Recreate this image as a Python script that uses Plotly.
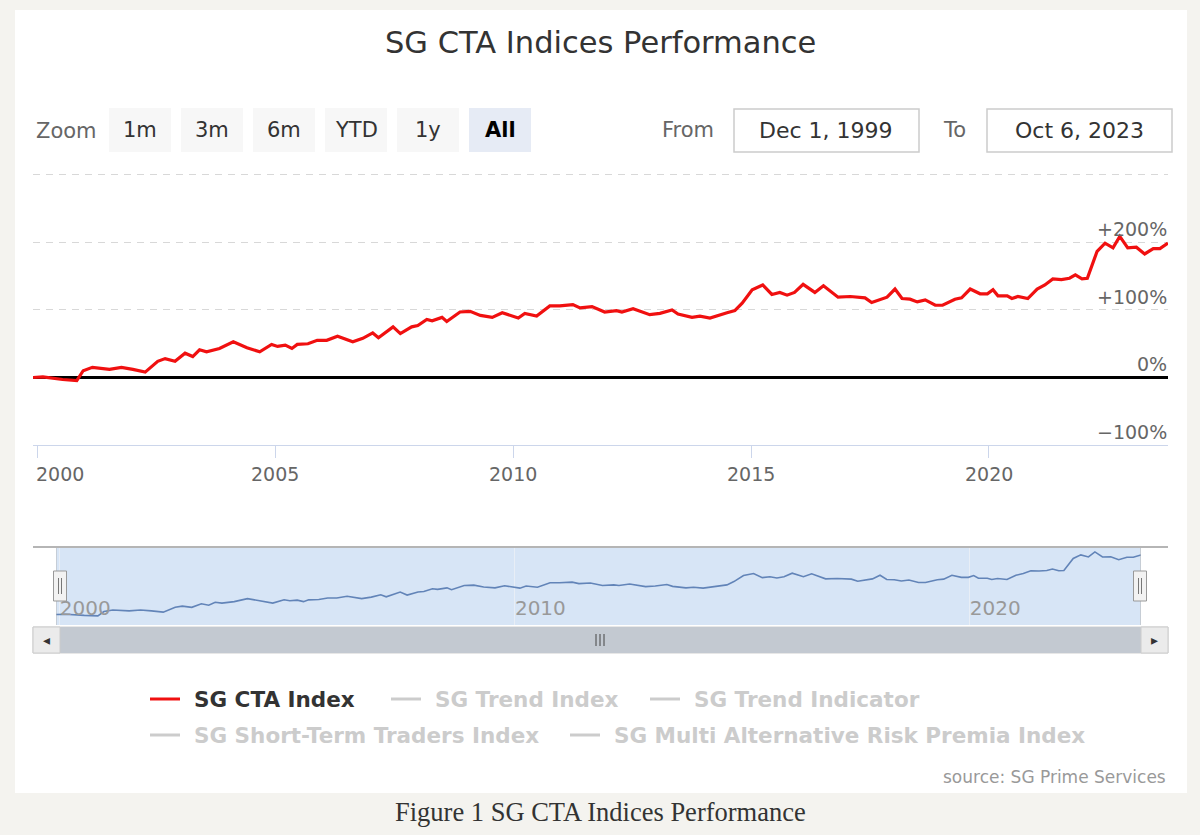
import plotly.graph_objects as go

# ---------------- data ----------------
dates = [
    "1999-12-01", "2000-02-15", "2000-07-15", "2000-11-01", "2000-12-20", "2001-03-01",
    "2001-07-10", "2001-10-10", "2002-01-05", "2002-04-10", "2002-07-15", "2002-09-10",
    "2002-11-25", "2003-02-10", "2003-04-10", "2003-06-01", "2003-07-25", "2003-11-01",
    "2004-02-15", "2004-05-30", "2004-09-05", "2004-12-05", "2005-01-20", "2005-03-20",
    "2005-05-10", "2005-06-20", "2005-09-10", "2005-11-20", "2006-02-01", "2006-04-25",
    "2006-08-20", "2006-11-05", "2007-01-20", "2007-03-05", "2007-06-25", "2007-08-20",
    "2007-11-15", "2008-01-01", "2008-03-10", "2008-04-20", "2008-07-05", "2008-08-10",
    "2008-11-20", "2009-02-05", "2009-04-25", "2009-07-25", "2009-10-10", "2010-02-10",
    "2010-04-01", "2010-07-01", "2010-10-10", "2010-12-25", "2011-04-05", "2011-05-30",
    "2011-08-30", "2011-12-05", "2012-03-05", "2012-04-15", "2012-07-10", "2012-11-15",
    "2013-02-01", "2013-05-05", "2013-06-20", "2013-10-05", "2013-12-05", "2014-02-20",
    "2014-07-01", "2014-08-30", "2014-10-25", "2015-01-10", "2015-04-01", "2015-06-10",
    "2015-08-10", "2015-10-05", "2015-12-01", "2016-02-05", "2016-05-05", "2016-07-10",
    "2016-10-30", "2017-02-01", "2017-05-25", "2017-07-15", "2017-11-10", "2018-01-10",
    "2018-03-05", "2018-05-05", "2018-06-30", "2018-08-30", "2018-11-15", "2019-01-10",
    "2019-04-15", "2019-06-05", "2019-08-10", "2019-10-25", "2019-12-20", "2020-02-01",
    "2020-03-10", "2020-05-20", "2020-06-25", "2020-08-10", "2020-10-25", "2021-01-05",
    "2021-03-05", "2021-05-05", "2021-07-10", "2021-09-10", "2021-10-25", "2021-12-15",
    "2022-01-25", "2022-03-01", "2022-04-10", "2022-06-10", "2022-08-10", "2022-10-01",
    "2022-12-01", "2023-02-05", "2023-04-10", "2023-06-15", "2023-08-05", "2023-10-06",
]
sg_cta_index = [
    0, 1, -3, -4.5, 10, 15,
    12, 15, 12, 8, 24, 28,
    24, 36, 31, 41, 38, 43,
    53, 44, 38, 49, 46, 48,
    43, 49, 50, 55, 55, 61,
    53, 58, 66, 59, 75, 65,
    75, 77, 86, 84, 89, 83,
    97, 98, 92, 89, 96, 88,
    95, 91, 106, 106, 108, 103,
    105, 97, 99, 97, 102, 93,
    95, 100, 94, 89, 91, 88,
    96, 99, 110, 130, 137, 123,
    126, 122, 126, 138, 126, 136,
    119, 120, 118, 111, 119, 131,
    117, 116, 112, 115, 107, 107,
    116, 118, 131, 124, 124, 130,
    121, 121, 117, 120, 117, 131,
    137, 146, 145, 147, 152, 146,
    147, 165, 187, 199, 192, 209,
    192, 193, 183, 191, 191, 199,
]

legend_row1 = ["SG CTA Index", "SG Trend Index", "SG Trend Indicator"]
legend_row2 = ["SG Short-Term Traders Index", "SG Multi Alternative Risk Premia Index"]
zoom_buttons = ["1m", "3m", "6m", "YTD", "1y", "All"]
y_tick_vals = [-100, 0, 100, 200, 300]
y_tick_text = ["\u2212100%", "0%", "+100%", "+200%", ""]
x_tick_years = [2000, 2005, 2010, 2015, 2020]
nav_tick_years = [2000, 2010, 2020]
date_from = "Dec 1, 1999"
date_to = "Oct 6, 2023"
range_start = "1999-12-01"
range_end = "2023-10-06"

# ---------------- helpers ----------------
W, H = 1200, 835
FONT = "DejaVu Sans"


def px(x):
    return x / W


def py(y):
    return 1 - y / H


shapes = []
annotations = []


def rect(x0, y0, x1, y1, fill, line=None, lw=1, layer="below"):
    shapes.append(dict(type="rect", xref="paper", yref="paper",
                       x0=px(x0), x1=px(x1), y0=py(y1), y1=py(y0),
                       fillcolor=fill, line=dict(color=line or fill, width=lw if line else 0),
                       layer=layer))


def text(x, y, s, size, color, xanchor="center", yanchor="middle", family=FONT, **kw):
    annotations.append(dict(x=px(x), y=py(y), xref="paper", yref="paper", text=s,
                            showarrow=False, xanchor=xanchor, yanchor=yanchor,
                            font=dict(size=size, color=color, family=family), **kw))


fig = go.Figure()

# main series
fig.add_trace(go.Scatter(x=dates, y=sg_cta_index, mode="lines", name="SG CTA Index",
                         line=dict(color="#f01010", width=3.2), xaxis="x", yaxis="y",
                         showlegend=False))
# navigator series
fig.add_trace(go.Scatter(x=dates, y=sg_cta_index, mode="lines", name="navigator",
                         line=dict(color="#6284b8", width=1.6), xaxis="x2", yaxis="y2",
                         showlegend=False, hoverinfo="skip"))

# page background card
rect(15, 10, 1187, 793, "#ffffff")

# title
text(600, 42, "SG CTA Indices Performance", 30.5, "#333333")

# zoom buttons
text(34, 131, "Zoom", 21, "#666666", xanchor="left")
bx = 109
for b in zoom_buttons:
    sel = b == "All"
    rect(bx, 108, bx + 62, 152, "#e6ebf5" if sel else "#f7f7f7")
    text(bx + 31, 130, "<b>%s</b>" % b if sel else b, 21, "#000000" if sel else "#333333")
    bx += 72

# From / To
text(716, 130, "From", 21, "#666666", xanchor="right")
rect(734, 109, 919, 152, "#ffffff", "#cccccc", 1.5)
text(826, 130, date_from, 22, "#333333")
text(968, 130, "To", 21, "#666666", xanchor="right")
rect(987, 109, 1172, 152, "#ffffff", "#cccccc", 1.5)
text(1079, 130, date_to, 22, "#333333")

# main y labels (above gridlines, right aligned)
for v, t in zip(y_tick_vals, y_tick_text):
    if t:
        annotations.append(dict(x=px(1169), y=v, xref="paper", yref="y", text=t,
                                showarrow=False, xanchor="right", yanchor="bottom",
                                font=dict(size=19, color="#666666", family=FONT)))

# main x labels
for i, yr in enumerate(x_tick_years):
    annotations.append(dict(x="%d-01-01" % yr, y=py(474), xref="x", yref="paper",
                            text=str(yr), showarrow=False,
                            xanchor="left" if i == 0 else "center", xshift=-3 if i == 0 else 0,
                            yanchor="middle",
                            font=dict(size=19, color="#666666", family=FONT)))

# navigator background & mask
shapes.append(dict(type="rect", xref="x2", yref="y2 domain", x0=range_start, x1=range_end,
                   y0=0, y1=1, fillcolor="#d7e5f6", line=dict(width=0), layer="below"))
# navigator top outline
shapes.append(dict(type="line", xref="paper", yref="paper", x0=px(33), x1=px(1168),
                   y0=py(547), y1=py(547), line=dict(color="#b5b5b5", width=2), layer="above"))
for xe in (range_start, range_end):
    shapes.append(dict(type="line", xref="x2", yref="y2 domain", x0=xe, x1=xe, y0=0, y1=1,
                       line=dict(color="#b5b5b5", width=1), layer="above"))
# handles
for hx in (60, 1140):
    rect(hx - 6.5, 571, hx + 6.5, 601, "#f2f2f2", "#999999", 1, layer="above")
    for dx in (-1.5, 1.5):
        shapes.append(dict(type="line", xref="paper", yref="paper", x0=px(hx + dx), x1=px(hx + dx),
                           y0=py(594), y1=py(578), line=dict(color="#777777", width=1),
                           layer="above"))

# scrollbar
rect(33, 627, 1168, 653, "#f2f2f2", "#d0d0d0", 1, layer="above")
rect(60, 627, 1141, 653, "#c3c9d1", layer="above")
rect(33, 627, 60, 653, "#ebebeb", "#cccccc", 1, layer="above")
rect(1141, 627, 1168, 653, "#ebebeb", "#cccccc", 1, layer="above")
text(46.5, 640, "\u25c2", 14, "#333333")
text(1154.5, 640, "\u25b8", 14, "#333333")
for dx in (-4, 0, 4):
    shapes.append(dict(type="line", xref="paper", yref="paper", x0=px(600 + dx), x1=px(600 + dx),
                       y0=py(646), y1=py(634), line=dict(color="#444444", width=1), layer="above"))


# legend
def legend_item(x, y, name, color, txtcolor):
    shapes.append(dict(type="line", xref="paper", yref="paper", x0=px(x), x1=px(x + 30),
                       y0=py(y), y1=py(y), line=dict(color=color, width=3)))
    text(x + 42, y, "<b>%s</b>" % name, 21.5, txtcolor, xanchor="left")


legend_item(150, 699, legend_row1[0], "#f01010", "#333333")
legend_item(391, 699, legend_row1[1], "#cccccc", "#cccccc")
legend_item(650, 699, legend_row1[2], "#cccccc", "#cccccc")
legend_item(150, 735, legend_row2[0], "#cccccc", "#cccccc")
legend_item(570, 735, legend_row2[1], "#cccccc", "#cccccc")

# source
text(1168, 777, "source: SG Prime Services", 17, "#999999", xanchor="right")

# caption
text(600, 812, "Figure 1 SG CTA Indices Performance", 26.5, "#333333", family="Liberation Serif")

fig.update_layout(
    width=W, height=H,
    margin=dict(l=0, r=0, t=0, b=0),
    paper_bgcolor="#f4f3ef",
    plot_bgcolor="rgba(0,0,0,0)",
    showlegend=False,
    xaxis=dict(domain=[px(33), px(1168)], range=[range_start, range_end], type="date",
               tickvals=["%d-01-01" % y for y in x_tick_years], showticklabels=False,
               ticks="outside", ticklen=12, tickcolor="#ccd6eb", tickwidth=1,
               showline=True, linecolor="#ccd6eb", linewidth=1, showgrid=False,
               anchor="y", fixedrange=True),
    yaxis=dict(domain=[py(445), py(171.6)], range=[-100, 305], tickvals=y_tick_vals,
               showticklabels=False, showgrid=True, gridcolor="#d8d8d8", griddash="7px,6px",
               gridwidth=1, zeroline=True, zerolinecolor="#000000", zerolinewidth=3,
               anchor="x", fixedrange=True),
    xaxis2=dict(domain=[px(56), px(1141)], range=[range_start, range_end], type="date",
                tickvals=["%d-01-01" % y for y in nav_tick_years],
                ticktext=[str(y) for y in nav_tick_years],
                ticklabelposition="inside right", ticks="", showgrid=True,
                gridcolor="#e8eef6", gridwidth=1, zeroline=False, showline=False,
                tickfont=dict(size=20, color="#999999", family=FONT),
                anchor="y2", fixedrange=True),
    yaxis2=dict(domain=[py(625), py(548)], range=[-35, 222], showticklabels=False,
                showgrid=False, zeroline=False, anchor="x2", fixedrange=True),
    shapes=shapes,
    annotations=annotations,
)

fig.write_html("out.html",
               config={"displayModeBar": False},
               post_script="document.body.style.margin='0';"
                           "document.body.style.background='#f4f3ef';")
